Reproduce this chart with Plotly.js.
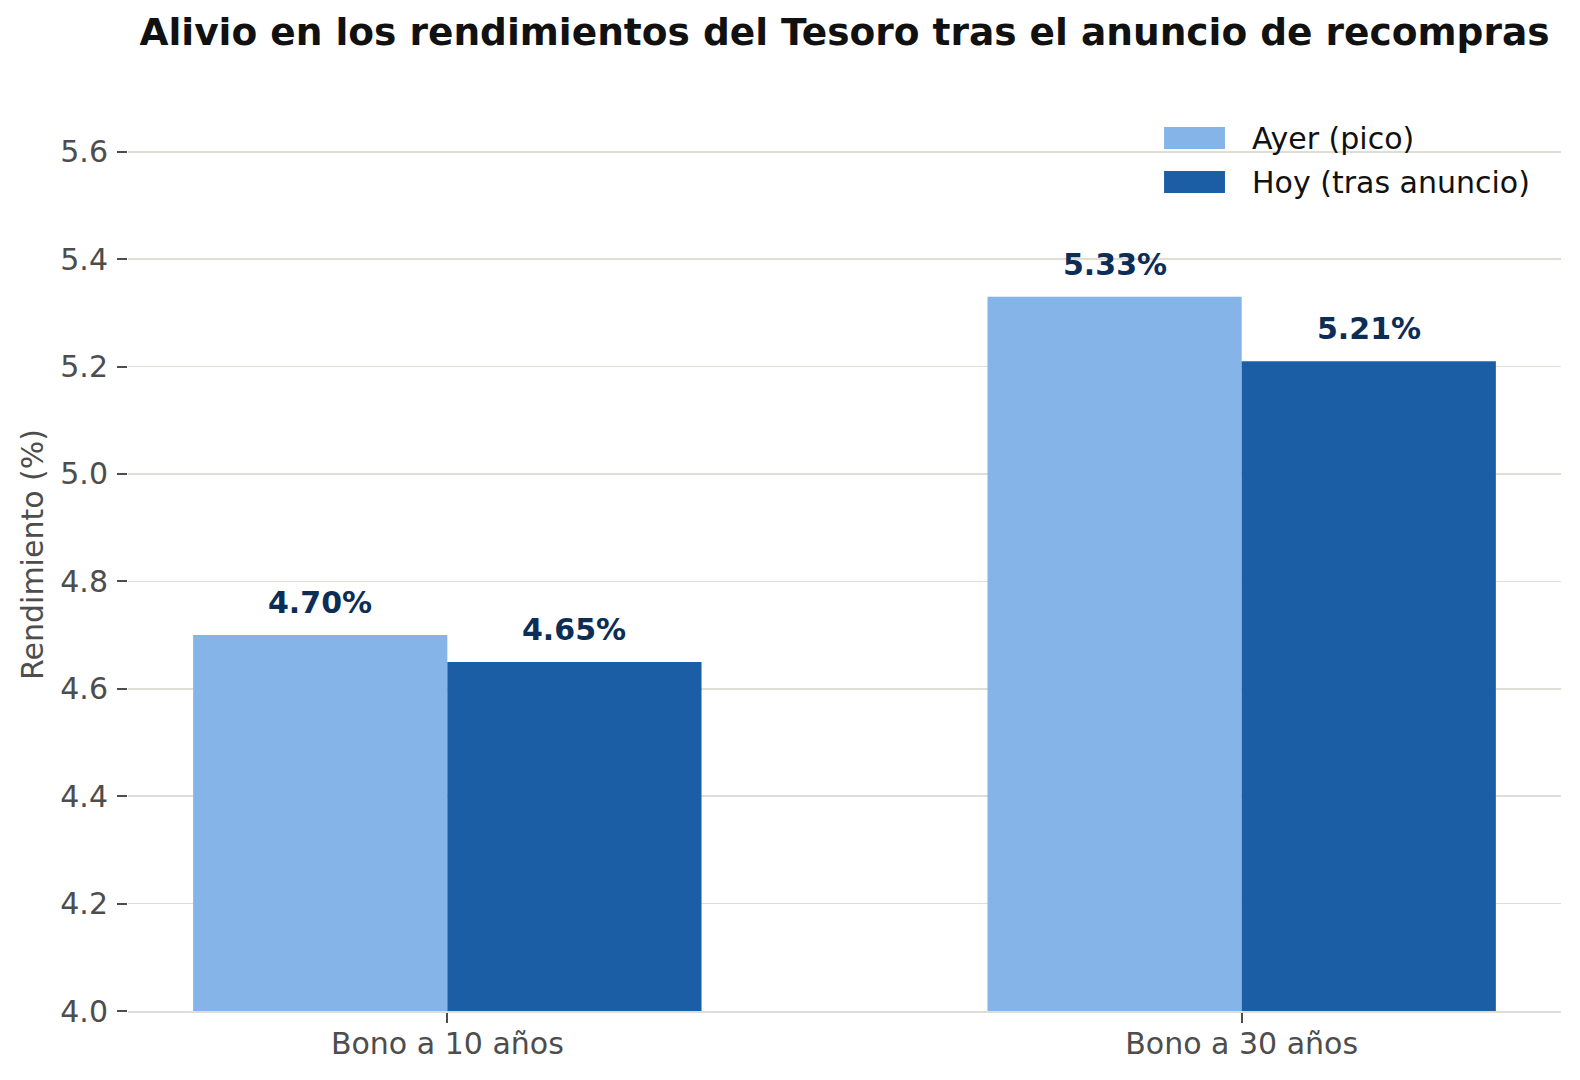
<!DOCTYPE html>
<html>
<head>
<meta charset="utf-8">
<script src="https://cdn.plot.ly/plotly-3.0.1.min.js"></script>
<style>html,body{margin:0;padding:0;background:#fff;}#chart{width:1580px;height:1080px;}</style>
</head>
<body>
<div id="chart"></div>
<script>
// ---- data ----
const categories = ["Bono a 10 años", "Bono a 30 años"];
const seriesNames = ["Ayer (pico)", "Hoy (tras anuncio)"];
const ayerValues = [4.70, 5.33];
const hoyValues = [4.65, 5.21];
const yTickVals = [4.0, 4.2, 4.4, 4.6, 4.8, 5.0, 5.2, 5.4, 5.6];
const titleText = "Alivio en los rendimientos del Tesoro tras el anuncio de recompras";
const yTitleText = "Rendimiento (%)";

// ---- styles ----
const colors = ["#85b5e8", "#1b5ea5"];
const labelColor = "#0c2d56";
const gridColor = "#deded6";
const tickColor = "#4d4d4d";
const FONT = "DejaVu Sans, Verdana, sans-serif";
const BAR_W = 0.32;

const series = [ayerValues, hoyValues];

const traces = series.map((vals, k) => ({
  type: "bar",
  name: seriesNames[k],
  x: categories,
  y: vals,
  marker: {color: colors[k], line: {width: 0}},
  hoverinfo: "x+y+name",
  showlegend: false
}));

const annotations = [];
series.forEach((vals, k) => {
  const off = (k === 0 ? -1 : 1) * BAR_W / 2;
  vals.forEach((v, i) => {
    annotations.push({
      x: i + off, y: v, xref: "x", yref: "y",
      text: "<b>" + v.toFixed(2) + "%</b>",
      showarrow: false, xanchor: "center", yanchor: "bottom", yshift: 13,
      font: {family: FONT, size: 30, color: labelColor}
    });
  });
});

// legend (custom large patches)
const legX0 = 0.7230, legX1 = 0.7655, legTextX = 0.7827;
const legRows = [[0.9682, 0.9441, 0.9552], [0.9200, 0.8959, 0.9070]];
const shapes = [];
seriesNames.forEach((nm, k) => {
  shapes.push({type: "rect", xref: "paper", yref: "paper",
    x0: legX0, x1: legX1, y0: legRows[k][1], y1: legRows[k][0],
    fillcolor: colors[k], line: {width: 0}});
  annotations.push({xref: "paper", yref: "paper", x: legTextX, y: legRows[k][2],
    text: nm, showarrow: false, xanchor: "left", yanchor: "middle",
    font: {family: FONT, size: 30, color: "#111111"}});
});

const layout = {
  width: 1580, height: 1080,
  margin: {l: 128, r: 19, t: 98, b: 69, pad: 0},
  paper_bgcolor: "#ffffff", plot_bgcolor: "#ffffff",
  font: {family: FONT, size: 30, color: tickColor},
  title: {
    text: titleText, xref: "paper", x: 0.5, xanchor: "center",
    yref: "container", y: 1 - 32 / 1080, yanchor: "middle",
    font: {family: FONT, size: 37.5, color: "#111111", weight: "bold"}
  },
  barmode: "group", bargap: 1 - 2 * BAR_W, bargroupgap: 0,
  xaxis: {
    type: "category", range: [-0.402, 1.402],
    showgrid: false, zeroline: false,
    showline: true, linecolor: gridColor, linewidth: 1.6,
    ticks: "outside", ticklen: 10, tickwidth: 2, tickcolor: tickColor,
    ticklabelstandoff: -5,
    tickfont: {family: FONT, size: 30, color: tickColor},
    fixedrange: true
  },
  yaxis: {
    range: [4.0, 5.7], tickvals: yTickVals, tickformat: ".1f",
    showgrid: true, gridcolor: gridColor, gridwidth: 1.6,
    zeroline: false, showline: false,
    ticks: "outside", ticklen: 10, tickwidth: 2, tickcolor: tickColor,
    ticklabelstandoff: 3,
    tickfont: {family: FONT, size: 30, color: tickColor},
    title: {text: yTitleText, standoff: 7, font: {family: FONT, size: 30, color: tickColor}},
    fixedrange: true
  },
  annotations: annotations,
  shapes: shapes,
  showlegend: false
};

Plotly.newPlot("chart", traces, layout, {displayModeBar: false, staticPlot: true});
</script>
</body>
</html>
